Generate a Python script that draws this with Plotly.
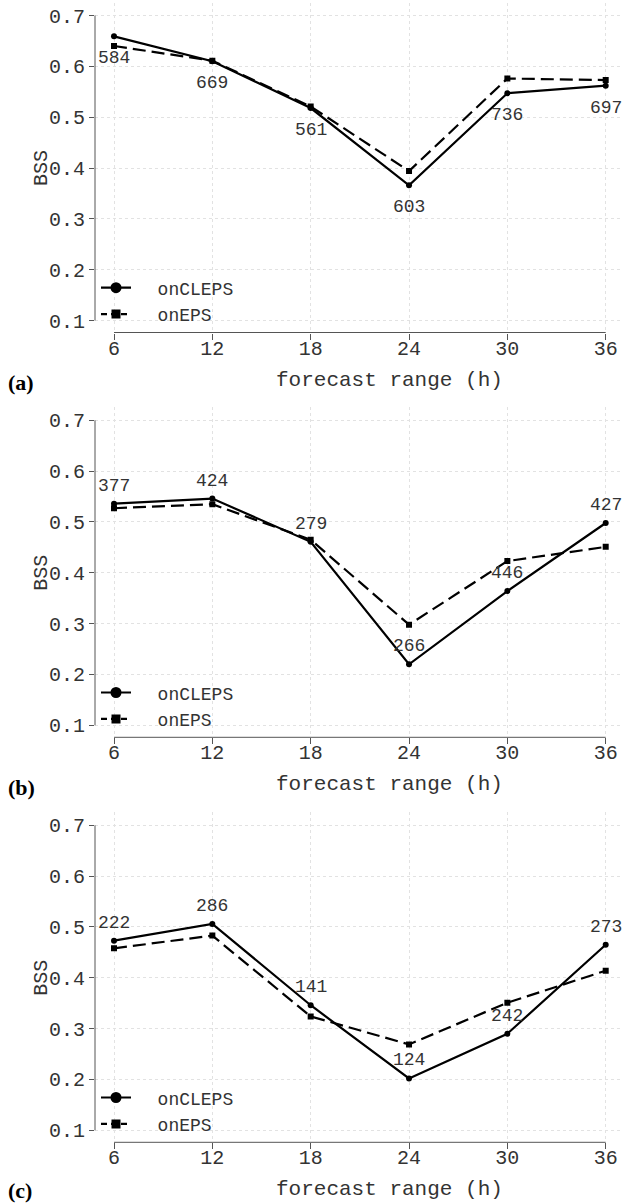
import plotly.graph_objects as go

# ---------------- data ----------------
hours = [6, 12, 18, 24, 30, 36]

onCLEPS_a = [0.659, 0.610, 0.518, 0.366, 0.547, 0.562]
onEPS_a = [0.640, 0.611, 0.521, 0.394, 0.576, 0.573]
counts_a = [584, 669, 561, 603, 736, 697]

onCLEPS_b = [0.536, 0.546, 0.461, 0.220, 0.364, 0.498]
onEPS_b = [0.527, 0.535, 0.465, 0.298, 0.423, 0.451]
counts_b = [377, 424, 279, 266, 446, 427]

onCLEPS_c = [0.473, 0.506, 0.346, 0.202, 0.290, 0.465]
onEPS_c = [0.458, 0.483, 0.324, 0.269, 0.351, 0.414]
counts_c = [222, 286, 141, 124, 242, 273]

y_ticks = [0.1, 0.2, 0.3, 0.4, 0.5, 0.6, 0.7]
y_ticktext = ["0.1", "0.2", "0.3", "0.4", "0.5", "0.6", "0.7"]
panel_tags = ["(a)", "(b)", "(c)"]
series_names = ["onCLEPS", "onEPS"]
x_title = "forecast range (h)"
y_title = "BSS"

panels = [
    (onCLEPS_a, onEPS_a, counts_a, "bottom"),
    (onCLEPS_b, onEPS_b, counts_b, "top"),
    (onCLEPS_c, onEPS_c, counts_c, "top"),
]

# ---------------- layout geometry (pixels) ----------------
W, H = 622, 1203
MONO = "Liberation Mono, Courier New, monospace"
TXT = "#333333"
AX = "#555555"
GRID = "#e2e2e2"
p07 = [15.5, 420.3, 825.3]          # pixel row of y=0.7 in each panel
pxu = 305 / 0.6                      # pixels per BSS unit
ylo = 0.1 - 12 / pxu
yhi = 0.7 + 13 / pxu
x_left_px, x6_px, x36_px = 95, 114, 605.7
pxh = (x36_px - x6_px) / 30
xlo = 6 - (x6_px - x_left_px) / pxh
xhi = 36 + (W - x36_px) / pxh


def py(p):
    return 1 - p / H


fig = go.Figure()
annotations = []
shapes = []

for i, (cl, ep, cnt, pos) in enumerate(panels):
    k = "" if i == 0 else str(i + 1)
    xa, ya = "x" + k, "y" + k
    leg = "legend" + k
    top_px = p07[i] - 13
    p01 = p07[i] + 305
    bot_px = p01 + 12

    fig.add_trace(go.Scatter(
        x=hours, y=cl, xaxis=xa, yaxis=ya, mode="lines+markers",
        line=dict(color="black", width=2.2),
        marker=dict(symbol="circle", size=6, color="black"),
        showlegend=False, name=series_names[0]))
    fig.add_trace(go.Scatter(
        x=hours, y=ep, xaxis=xa, yaxis=ya, mode="lines+markers",
        line=dict(color="black", width=2.2, dash="13px,6px"),
        marker=dict(symbol="square", size=6, color="black"),
        showlegend=False, name=series_names[1]))
    # legend entries
    fig.add_trace(go.Scatter(
        x=[None], y=[None], xaxis=xa, yaxis=ya, mode="lines+markers",
        line=dict(color="black", width=2.2),
        marker=dict(symbol="circle", size=11, color="black"),
        name="\u00a0\u00a0" + series_names[0], legend=leg))
    fig.add_trace(go.Scatter(
        x=[None], y=[None], xaxis=xa, yaxis=ya, mode="lines+markers",
        line=dict(color="black", width=2.2, dash="6px,4px"),
        marker=dict(symbol="square", size=9, color="black"),
        name="\u00a0\u00a0" + series_names[1], legend=leg))

    dom = [py(bot_px), py(top_px)]
    fig.update_layout(**{
        ("xaxis" + k): dict(
            domain=[x_left_px / W, 1], range=[xlo, xhi], anchor=ya,
            tickvals=hours, ticktext=[str(h) for h in hours],
            ticks="outside", ticklen=6, tickcolor=AX, tickwidth=1,
            ticklabelstandoff=-9,
            showline=False, zeroline=False,
            showgrid=True, gridcolor=GRID, griddash="dot", gridwidth=1,
            tickfont=dict(family=MONO, size=20, color=TXT)),
        ("yaxis" + k): dict(
            domain=dom, range=[ylo, yhi], anchor=xa,
            tickvals=y_ticks, ticktext=y_ticktext,
            ticks="outside", ticklen=5, tickcolor=AX, tickwidth=1,
            showline=False, zeroline=False,
            showgrid=True, gridcolor=GRID, griddash="dot", gridwidth=1,
            tickfont=dict(family=MONO, size=20, color=TXT)),
        leg: dict(
            x=(x_left_px + 1) / W, xanchor="left",
            y=py(p01 - 51), yanchor="top",
            bgcolor="rgba(0,0,0,0)", borderwidth=0,
            font=dict(family=MONO, size=18, color=TXT),
            tracegroupgap=0, itemwidth=30),
    })

    # axis lines (Stata-style detached axes)
    shapes.append(dict(type="line", xref=xa, yref=ya + " domain",
                       x0=hours[0], x1=hours[-1], y0=0, y1=0,
                       line=dict(color=AX, width=1)))
    shapes.append(dict(type="line", xref=xa + " domain", yref=ya,
                       x0=0, x1=0, y0=y_ticks[0], y1=y_ticks[-1],
                       line=dict(color=AX, width=1)))

    # count labels
    shift = 18 if pos == "top" else -22
    for h, v, c in zip(hours, cl, cnt):
        annotations.append(dict(
            x=h, y=v, xref=xa, yref=ya, text=str(c), showarrow=False,
            xanchor="center", yanchor="middle", yshift=shift,
            font=dict(family=MONO, size=18, color=TXT)))

    # axis titles and panel tag
    annotations.append(dict(
        x=390 / W, y=py(p01 + 59.5), xref="paper", yref="paper",
        text=x_title, showarrow=False, xanchor="center", yanchor="middle",
        font=dict(family=MONO, size=21, color=TXT)))
    annotations.append(dict(
        x=42 / W, y=py(p07[i] + 152.5), xref="paper", yref="paper",
        text=y_title, showarrow=False, textangle=-90,
        xanchor="center", yanchor="middle",
        font=dict(family=MONO, size=20, color=TXT)))
    annotations.append(dict(
        x=6 / W, y=py(min(p01 + 62.5, 1190)), xref="paper", yref="paper",
        text="<b>" + panel_tags[i] + "</b>", showarrow=False,
        xanchor="left", yanchor="middle",
        font=dict(family="Liberation Serif, Times New Roman, serif",
                  size=22, color="black")))

fig.update_layout(
    width=W, height=H, margin=dict(l=0, r=0, t=0, b=0),
    paper_bgcolor="white", plot_bgcolor="white",
    annotations=annotations, shapes=shapes,
)

fig.write_html("out.html")
